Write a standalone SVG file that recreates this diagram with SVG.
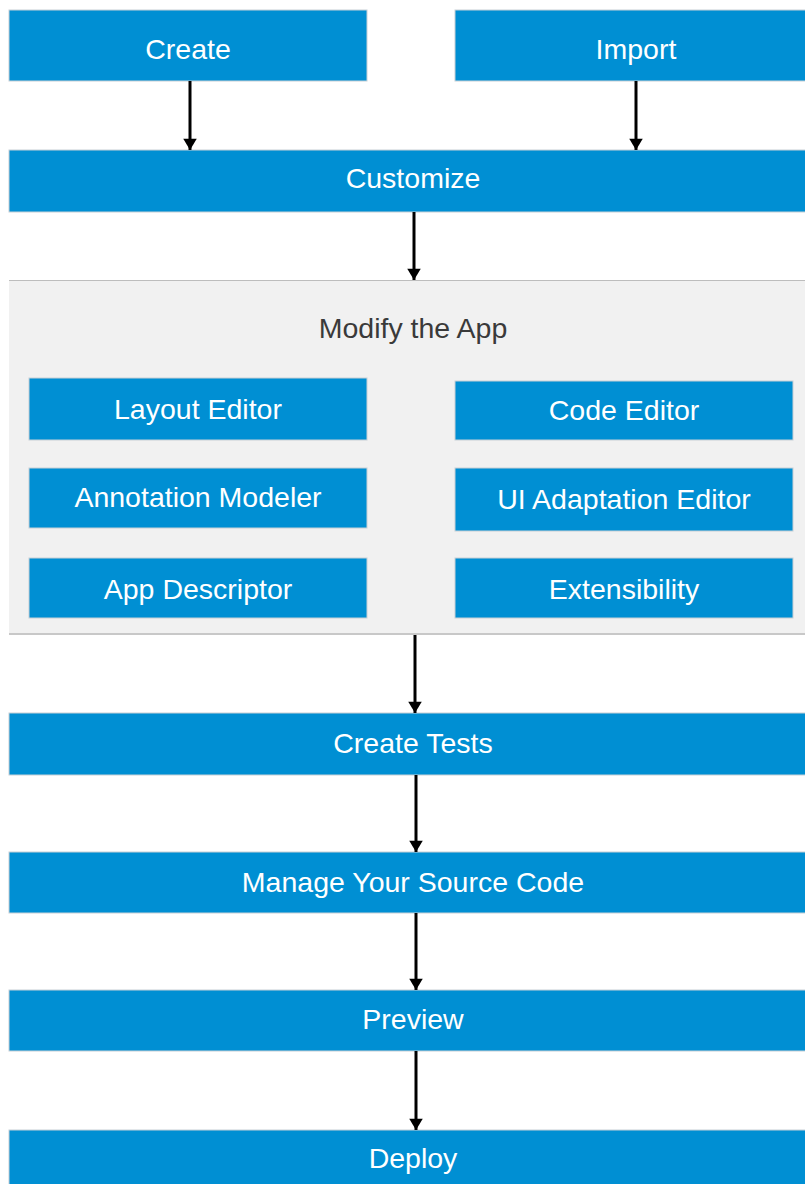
<svg xmlns="http://www.w3.org/2000/svg" width="805" height="1184" viewBox="0 0 805 1184">
<style>
.box{fill:#008fd3;stroke:#c8d0d6;stroke-width:1}
.t{font-family:"Liberation Sans",Arial,sans-serif;font-size:28.5px;fill:#ffffff;text-anchor:middle}
.h{font-family:"Liberation Sans",Arial,sans-serif;font-size:28.5px;fill:#3a3a3a;text-anchor:middle}
.c{stroke:#000;stroke-width:3;fill:none}
</style>
<defs>
<marker id="ah" viewBox="0 0 10 12" refX="10" refY="6" markerWidth="5" markerHeight="4.5" markerUnits="strokeWidth" orient="auto">
<path d="M0,0 L10,6 L0,12 z" fill="#000"/>
</marker>
</defs>
<rect x="0" y="0" width="805" height="1184" fill="#ffffff"/>
<g id="panel">
<rect x="9" y="280" width="796" height="354" fill="#f1f1f1"/>
<line x1="9" y1="280.5" x2="805" y2="280.5" stroke="#bdbdbd" stroke-width="1"/>
<line x1="9" y1="634" x2="805" y2="634" stroke="#c8c8c8" stroke-width="2"/>
<text class="h" x="413" y="338">Modify the App</text>
</g>
<g id="create"><rect class="box" x="9" y="10" width="358" height="71"/><text class="t" x="188" y="59">Create</text></g>
<g id="import"><rect class="box" x="455" y="10" width="352" height="71"/><text class="t" x="636" y="59">Import</text></g>
<g id="customize"><rect class="box" x="9" y="150" width="798" height="62"/><text class="t" x="413" y="188">Customize</text></g>
<g id="layout-editor"><rect class="box" x="29" y="378" width="338" height="62"/><text class="t" x="198" y="419">Layout Editor</text></g>
<g id="code-editor"><rect class="box" x="455" y="381" width="338" height="59"/><text class="t" x="624" y="420">Code Editor</text></g>
<g id="annotation-modeler"><rect class="box" x="29" y="468" width="338" height="60"/><text class="t" x="198" y="507">Annotation Modeler</text></g>
<g id="ui-adaptation-editor"><rect class="box" x="455" y="468" width="338" height="63"/><text class="t" x="624" y="509">UI Adaptation Editor</text></g>
<g id="app-descriptor"><rect class="box" x="29" y="558" width="338" height="60"/><text class="t" x="198" y="599">App Descriptor</text></g>
<g id="extensibility"><rect class="box" x="455" y="558" width="338" height="60"/><text class="t" x="624" y="599">Extensibility</text></g>
<g id="create-tests"><rect class="box" x="9" y="713" width="798" height="62"/><text class="t" x="413" y="753">Create Tests</text></g>
<g id="manage"><rect class="box" x="9" y="852" width="798" height="61"/><text class="t" x="413" y="892">Manage Your Source Code</text></g>
<g id="preview"><rect class="box" x="9" y="990" width="798" height="61"/><text class="t" x="413" y="1029">Preview</text></g>
<g id="deploy"><rect class="box" x="9" y="1130" width="798" height="60"/><text class="t" x="413" y="1168">Deploy</text></g>
<g id="connectors">
<line class="c" x1="190" y1="81" x2="190" y2="150" marker-end="url(#ah)"/>
<line class="c" x1="636" y1="81" x2="636" y2="150" marker-end="url(#ah)"/>
<line class="c" x1="414" y1="212" x2="414" y2="280" marker-end="url(#ah)"/>
<line class="c" x1="415" y1="635" x2="415" y2="713" marker-end="url(#ah)"/>
<line class="c" x1="416" y1="775" x2="416" y2="852" marker-end="url(#ah)"/>
<line class="c" x1="416" y1="913" x2="416" y2="990" marker-end="url(#ah)"/>
<line class="c" x1="416" y1="1051" x2="416" y2="1130" marker-end="url(#ah)"/>
</g>
</svg>
